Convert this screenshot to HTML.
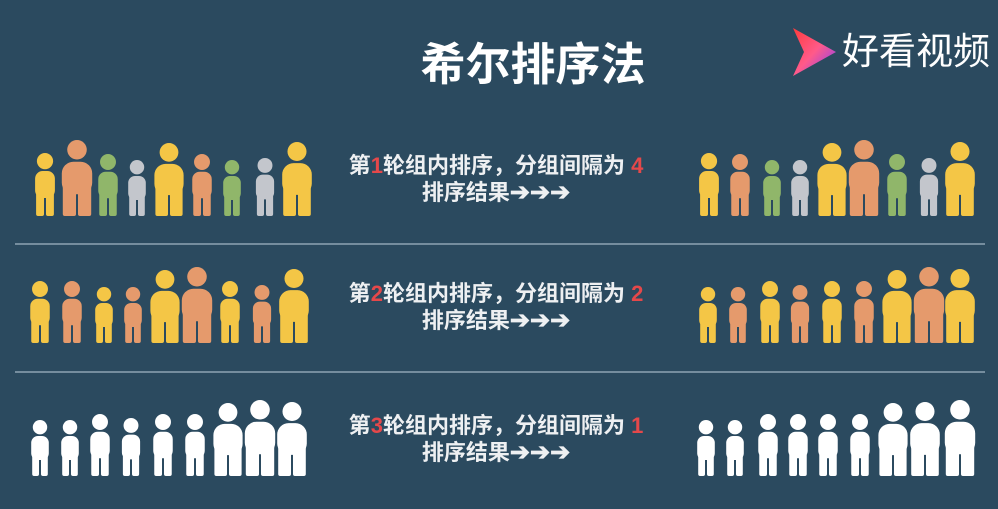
<!DOCTYPE html>
<html><head><meta charset="utf-8">
<style>
body{margin:0;width:998px;height:509px;background:#2b4a5f;overflow:hidden;font-family:"Liberation Sans","Noto Sans CJK SC",sans-serif;}
svg{position:absolute;left:0;top:0}
.t{position:absolute;color:#eef0f2;font-weight:bold;font-size:22px;text-align:center;width:400px;left:296px;line-height:27px;font-family:"Liberation Sans","Noto Sans CJK SC",sans-serif}
.r{color:#e5484a}
.a{font-size:24px}
</style></head><body>
<svg width="998" height="509" id="s">
<line x1="15" y1="244" x2="985" y2="244" stroke="#8ea3b3" stroke-width="1.5"/>
<line x1="15" y1="372" x2="985" y2="372" stroke="#8ea3b3" stroke-width="1.5"/>
<defs><linearGradient id="g" x1="0" y1="0" x2="1" y2="1"><stop offset="0" stop-color="#ff3b3b"/><stop offset="0.5" stop-color="#ff5a8a"/><stop offset="1" stop-color="#7a3cff"/></linearGradient></defs>
<path d="M793 28 L836 52 L793 76 L804 52 Z" fill="url(#g)"/>
<text x="533" y="80" fill="#fff" font-size="45" font-weight="bold" text-anchor="middle" font-family="Liberation Sans, Noto Sans CJK SC, sans-serif">希尔排序法</text>
<text x="842" y="64" fill="#fff" font-size="37" font-family="Liberation Sans, Noto Sans CJK SC, sans-serif">好看视频</text>
</svg>
<div class="t" style="top:152px">第<span class="r">1</span>轮组内排序，分组间隔为 <span class="r">4</span><br>排序结果<span class="a">➔➔➔</span></div>
<div class="t" style="top:280px">第<span class="r">2</span>轮组内排序，分组间隔为 <span class="r">2</span><br>排序结果<span class="a">➔➔➔</span></div>
<div class="t" style="top:412px">第<span class="r">3</span>轮组内排序，分组间隔为 <span class="r">1</span><br>排序结果<span class="a">➔➔➔</span></div>
<script>
const Y='#f4c646',O='#e59a6c',G='#90b66a',S='#c3c6cc',W='#ffffff';
const r1Lx=[45,77,108,137,169,202,232,265,297], r1Lh=[63,76,62,56,73,62,56,58,74], r1Lc=[Y,O,G,S,Y,O,G,S,Y];
const r1Rx=[709,740,772,800,832,864,897,929,960], r1Rh=[63,62,56,56,73,76,62,58,74], r1Rc=[Y,O,G,S,Y,O,G,S,Y];
const r2Lx=[40,72,104,133,165,197,230,262,294], r2Lh=[62,62,56,56,73,76,62,58,74], r2Lc=[Y,O,Y,O,Y,O,Y,O,Y];
const r2Rx=[708,738,770,800,832,864,897,929,960], r2Rh=[56,56,62,58,62,62,73,76,74], r2Rc=[Y,O,Y,O,Y,O,Y,O,Y];
const r3Lx=[40,70,100,131,163,195,228,260,292], r3Lh=[56,56,62,58,62,62,73,76,74], r3Lc=[W,W,W,W,W,W,W,W,W];
const r3Rx=[706,735,768,798,828,860,893,925,960], r3Rh=[56,56,62,62,62,62,73,74,76], r3Rc=[W,W,W,W,W,W,W,W,W];
const rows=[[r1Lx,r1Lh,r1Lc,216],[r1Rx,r1Rh,r1Rc,216],[r2Lx,r2Lh,r2Lc,343],[r2Rx,r2Rh,r2Rc,343],[r3Lx,r3Lh,r3Lc,476],[r3Rx,r3Rh,r3Rc,476]];
const s=document.getElementById('s'),NS='http://www.w3.org/2000/svg';
function mk(t,a,p){const e=document.createElementNS(NS,t);for(const k in a)e.setAttribute(k,a[k]);p.appendChild(e);return e;}
rows.forEach((r,ri)=>{r[0].forEach((x,i)=>{
 const H=r[1][i],c=r[2][i],b=r[3],k=H/70,w=(H>70?28:22)*k;
 const g=mk('g',{fill:c},s);
 
 
 const top=b-H;
 mk('circle',{cx:x,cy:top+9*k,r:9*k},g);
 mk('rect',{x:x-w/2,y:top+20*k,width:w,height:30*k,rx:w/2.6},g);
 mk('rect',{x:x-w/2+1,y:top+40*k,width:w/2-2,height:H-40*k,rx:2},g);
 mk('rect',{x:x+1,y:top+40*k,width:w/2-2,height:H-40*k,rx:2},g);
});});
</script>
</body></html>
